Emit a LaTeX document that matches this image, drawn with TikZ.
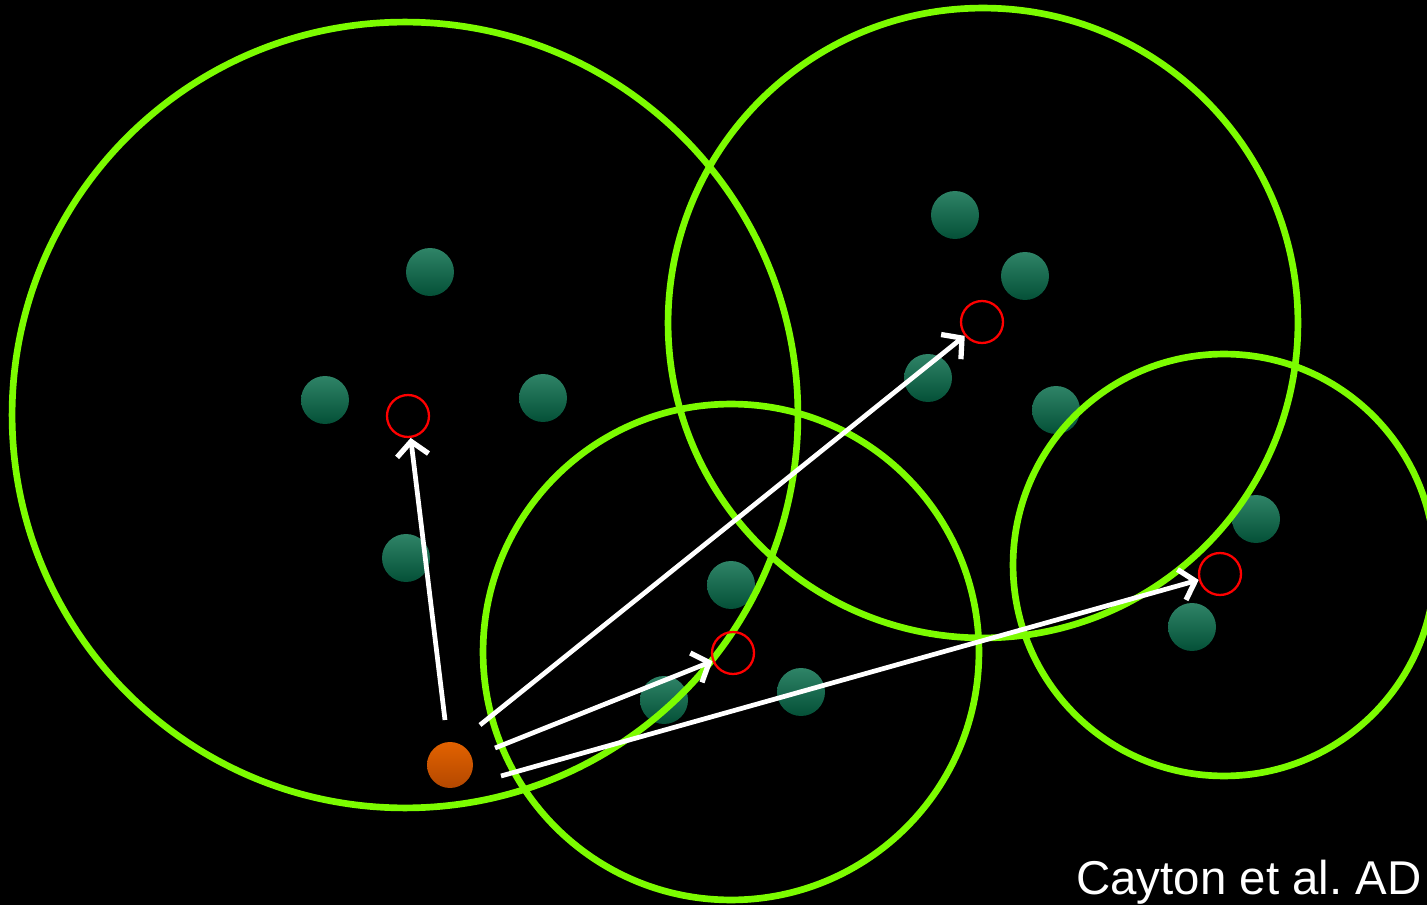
\documentclass[tikz,border=0pt]{standalone}
\usepackage{fontspec}
\setmainfont{Liberation Sans}
\usetikzlibrary{arrows.meta}

\definecolor{ringgreen}{RGB}{124,252,0}
\definecolor{dotgreen}{RGB}{10,110,76}
\definecolor{dotdark}{RGB}{4,80,55}
\definecolor{dotorange}{RGB}{226,98,0}
\definecolor{orangedark}{RGB}{180,72,0}

\begin{document}
\begin{tikzpicture}[x=0.02cm, y=-0.02cm,
    ring/.style={draw=ringgreen, line width=3.8pt},
    gdot/.style={circle, minimum size=0.96cm, inner sep=0pt, top color=dotgreen!85!white, bottom color=dotdark},
    odot/.style={circle, minimum size=0.92cm, inner sep=0pt, top color=dotorange, bottom color=orangedark},
    centre/.style={circle, draw=red, line width=1.3pt, minimum size=0.84cm, inner sep=0pt},
    query/.style={draw=white, line width=2.7pt, -{Straight Barb[length=8pt,width=18pt,line width=3pt]}}]
    % Background
    \fill[black] (0, 0) rectangle (1427, 905);
    \useasboundingbox (0, 0) rectangle (1427, 905);

    % Data points
    \node[gdot] (g1) at (430, 272) {};
    \node[gdot] (g2) at (325, 400) {};
    \node[gdot] (g3) at (543, 398) {};
    \node[gdot] (g4) at (406, 558) {};
    \node[gdot] (g5) at (955, 215) {};
    \node[gdot] (g6) at (1025, 276) {};
    \node[gdot] (g7) at (928, 378) {};
    \node[gdot] (g8) at (1056, 410) {};
    \node[gdot] (g9) at (1256, 519) {};
    \node[gdot] (g10) at (1192, 627) {};
    \node[gdot] (g11) at (731, 585) {};
    \node[gdot] (g12) at (664, 700) {};
    \node[gdot] (g13) at (801, 692) {};

    % Balls
    \draw[ring] (405, 415) circle (7.86cm);
    \draw[ring] (983, 323) circle (6.3cm);
    \draw[ring] (731, 652) circle (4.96cm);
    \draw[ring] (1224, 565) circle (4.22cm);

    % Representatives
    \node[centre] (c1) at (408, 416) {};
    \node[centre] (c2) at (982, 322) {};
    \node[centre] (c3) at (733, 653) {};
    \node[centre] (c4) at (1220, 574) {};

    % Query point
    \node[odot] (q) at (450, 765) {};

    % Distances to representatives
    \coordinate (s1) at (445, 720);
    \coordinate (s2) at (480, 725);
    \coordinate (s3) at (495, 748);
    \coordinate (s4) at (501, 776);
    \draw[query] (s1) -- (c1);
    \draw[query] (s2) -- (c2);
    \draw[query] (s3) -- (c3);
    \draw[query] (s4) -- (c4);

    % Credit
    \node[anchor=base east, white, font=\fontsize{27}{32}\selectfont, inner sep=0pt] (credit) at (1422, 894) {Cayton et al.\ AD};
\end{tikzpicture}
\end{document}
